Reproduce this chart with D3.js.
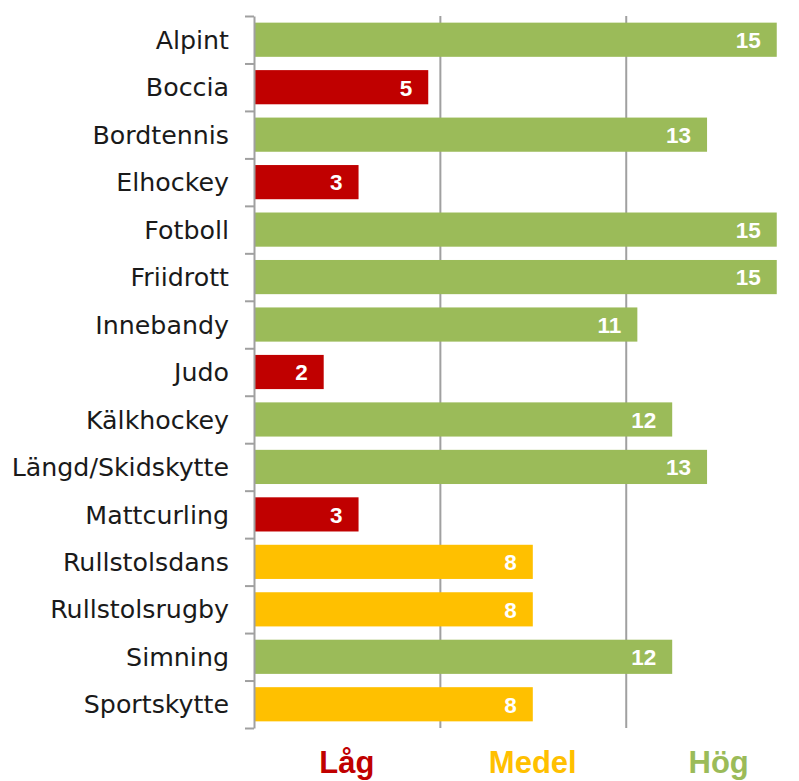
<!DOCTYPE html>
<html>
<head>
<meta charset="utf-8">
<script src="https://cdn.jsdelivr.net/npm/d3@7"></script>
<style>
  html, body { margin: 0; padding: 0; background: #fff; }
  svg { display: block; }
</style>
</head>
<body>
<div id="chart"></div>
<script>
// data
let categories = ["Alpint", "Boccia", "Bordtennis", "Elhockey", "Fotboll", "Friidrott", "Innebandy", "Judo",
    "Kälkhockey", "Längd/Skidskytte", "Mattcurling", "Rullstolsdans", "Rullstolsrugby", "Simning", "Sportskytte"]
let values = [15, 5, 13, 3, 15, 15, 11, 2, 12, 13, 3, 8, 8, 12, 8]
let levels = ["Hög", "Låg", "Hög", "Låg", "Hög", "Hög", "Hög", "Låg", "Hög", "Hög", "Låg", "Medel", "Medel", "Hög", "Medel"]
let zoneLabels = ["Låg", "Medel", "Hög"]
let zoneColors = { "Låg": "#C00000", "Medel": "#FFC000", "Hög": "#9BBB59" }

let width = 799
let height = 781
let margin = { top: 16, left: 254, bottom: 53 }
let xMax = 16

let svg = d3.select("#chart").append("svg")
    .attr("width", width)
    .attr("height", height)

let plotBottom = height - margin.bottom
let xScale = d3.scaleLinear().domain([0, xMax]).range([margin.left, margin.left + 16 * 34.85])
let yScale = d3.scaleBand().domain(categories).range([margin.top, plotBottom])
    .paddingInner(0.28).paddingOuter(0.14)

// zone gridlines
let zoneEdges = [xMax / 3, xMax * 2 / 3]
svg.append("g")
    .attr("transform", "translate(0," + margin.top + ")")
    .call(d3.axisBottom(xScale).tickValues(zoneEdges).tickSize(plotBottom - margin.top).tickFormat(""))
    .call(g => g.select(".domain").remove())
    .call(g => g.selectAll("line").attr("stroke", "#a0a0a0").attr("stroke-width", 2))

// bars
svg.append("g").selectAll("rect")
    .data(categories)
    .join("rect")
    .attr("x", xScale(0))
    .attr("y", d => yScale(d))
    .attr("width", (d, i) => xScale(values[i]) - xScale(0))
    .attr("height", yScale.bandwidth())
    .attr("fill", (d, i) => zoneColors[levels[i]])

// value labels
svg.append("g").selectAll("text")
    .data(categories)
    .join("text")
    .attr("x", (d, i) => xScale(values[i]) - 16)
    .attr("y", d => yScale(d) + yScale.bandwidth() / 2)
    .attr("dy", "0.37em")
    .attr("text-anchor", "end")
    .attr("fill", "#fff")
    .style("font-family", "'Liberation Sans', Arial, sans-serif")
    .style("font-weight", "bold")
    .style("font-size", "22.5px")
    .text((d, i) => values[i])

// left axis with ticks between categories
let tickScale = d3.scaleLinear().domain([0, categories.length]).range([margin.top, plotBottom])
svg.append("g")
    .attr("transform", "translate(" + margin.left + ",0)")
    .call(d3.axisLeft(tickScale).tickValues(d3.range(categories.length + 1)).tickSize(9).tickSizeOuter(0).tickFormat(""))
    .call(g => g.select(".domain").attr("stroke", "#a0a0a0").attr("stroke-width", 2))
    .call(g => g.selectAll("line").attr("stroke", "#a0a0a0").attr("stroke-width", 2))

// category labels
svg.append("g").selectAll("text")
    .data(categories)
    .join("text")
    .attr("x", 229)
    .attr("y", d => yScale(d) + yScale.bandwidth() / 2)
    .attr("dy", "0.36em")
    .attr("text-anchor", "end")
    .attr("fill", "#1a1a1a")
    .style("font-family", "'DejaVu Sans', sans-serif")
    .style("font-size", "25.3px")
    .text(d => d)

// zone labels under the plot
svg.append("g").selectAll("text")
    .data(zoneLabels)
    .join("text")
    .attr("x", (d, i) => xScale(xMax / 6 + i * xMax / 3))
    .attr("y", 773)
    .attr("text-anchor", "middle")
    .attr("fill", d => zoneColors[d])
    .style("font-family", "'Liberation Sans', Arial, sans-serif")
    .style("font-weight", "bold")
    .style("font-size", "31px")
    .text(d => d)
</script>
</body>
</html>
